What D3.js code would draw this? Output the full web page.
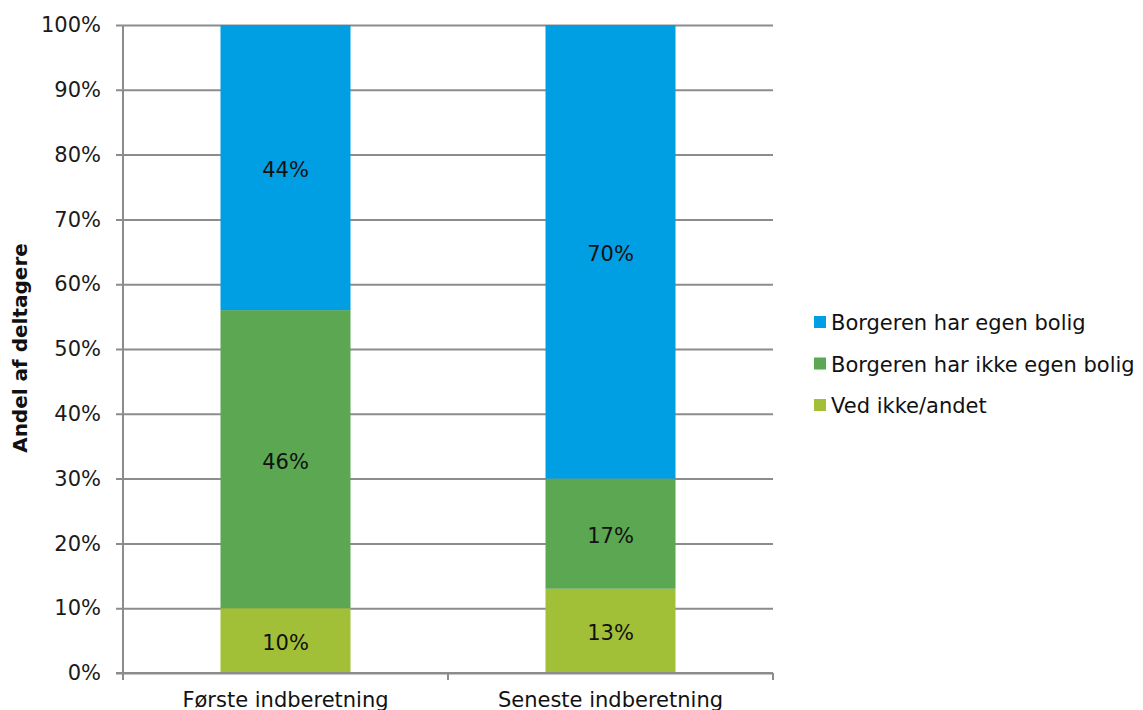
<!DOCTYPE html>
<html>
<head>
<meta charset="utf-8">
<script src="https://cdn.jsdelivr.net/npm/d3@7"></script>
<style>
  html, body { margin: 0; padding: 0; background: #fff; }
  svg { display: block; font-family: "DejaVu Sans", Verdana, sans-serif; }
</style>
</head>
<body>
<svg id="chart" width="1143" height="710"></svg>
<script>
// Stacked 100% bars: housing status of participants
const categories = ["Første indberetning", "Seneste indberetning"];
const seriesNames = ["Ved ikke/andet", "Borgeren har ikke egen bolig", "Borgeren har egen bolig"];
const vedIkke = [10, 13];
const ikkeEgenBolig = [46, 17];
const egenBolig = [44, 70];
const seriesColors = ["#A2C037", "#5BA752", "#009FE3"];
const yTicks = [0, 10, 20, 30, 40, 50, 60, 70, 80, 90, 100];
const yTitle = "Andel af deltagere";

const rows = categories.map((c, i) => ({
  cat: c,
  "Ved ikke/andet": vedIkke[i],
  "Borgeren har ikke egen bolig": ikkeEgenBolig[i],
  "Borgeren har egen bolig": egenBolig[i]
}));

const svg = d3.select("#chart");
const margin = { left: 123, right: 370, top: 25, bottom: 37 };
const W = 1143, H = 710;
const x0 = margin.left, x1 = W - margin.right, y0 = H - margin.bottom, y1 = margin.top;
const fs = 21;

const x = d3.scaleBand().domain(categories).range([x0, x1]).paddingInner(0.6).paddingOuter(0.3);
const xEdges = d3.scaleLinear().domain([0, categories.length]).range([x0, x1]);
const y = d3.scaleLinear().domain([0, 100]).range([y0, y1]);

const grid = "#8C8C8C";

// horizontal gridlines with outward ticks
const yAxis = d3.axisLeft(y).tickValues(yTicks).tickFormat(d => d + "%")
  .tickSize(-(x1 - x0)).tickPadding(22);
const gy = svg.append("g").attr("transform", `translate(${x0},0)`).call(yAxis);
gy.select(".domain").remove();
gy.selectAll(".tick line").attr("stroke", grid).attr("stroke-width", 2).attr("x1", -7);
gy.selectAll(".tick text").attr("font-size", fs).attr("fill", "#1a1a1a")
  .attr("font-family", "DejaVu Sans, Verdana, sans-serif");

// stacked bars
const stack = d3.stack().keys(seriesNames);
const layers = stack(rows);
const gBars = svg.append("g");
layers.forEach((layer, li) => {
  gBars.selectAll(null).data(layer).enter().append("rect")
    .attr("x", d => x(d.data.cat))
    .attr("width", x.bandwidth())
    .attr("y", d => y(d[1]))
    .attr("height", d => y(d[0]) - y(d[1]))
    .attr("fill", seriesColors[li]);
  gBars.selectAll(null).data(layer).enter().append("text")
    .attr("x", d => x(d.data.cat) + x.bandwidth() / 2)
    .attr("y", d => (y(d[0]) + y(d[1])) / 2 + 2)
    .attr("dy", "0.35em")
    .attr("text-anchor", "middle")
    .attr("font-size", fs)
    .attr("fill", "#111")
    .text(d => Math.round(d[1] - d[0]) + "%");
});

// y axis line
svg.append("line").attr("x1", x0).attr("x2", x0).attr("y1", y1).attr("y2", y0)
  .attr("stroke", grid).attr("stroke-width", 2);

// x axis line and category boundary ticks
svg.append("line").attr("x1", x0 - 7).attr("x2", x1).attr("y1", y0).attr("y2", y0)
  .attr("stroke", grid).attr("stroke-width", 2);
svg.append("g").selectAll("line").data(d3.range(categories.length + 1)).enter().append("line")
  .attr("x1", d => xEdges(d)).attr("x2", d => xEdges(d))
  .attr("y1", y0).attr("y2", y0 + 7)
  .attr("stroke", grid).attr("stroke-width", 2);

// category labels
svg.append("g").selectAll("text").data(categories).enter().append("text")
  .attr("x", d => x(d) + x.bandwidth() / 2)
  .attr("y", y0 + 34)
  .attr("text-anchor", "middle")
  .attr("font-size", fs)
  .attr("fill", "#111")
  .text(d => d);

// y axis title
svg.append("text")
  .attr("transform", `translate(27,348) rotate(-90)`)
  .attr("text-anchor", "middle")
  .attr("font-size", 20)
  .attr("font-weight", "bold")
  .attr("fill", "#111")
  .text(yTitle);

// legend (top entry is the top of the stack)
const legendItems = seriesNames.map((n, i) => ({ name: n, color: seriesColors[i] })).reverse();
const lg = svg.append("g").attr("transform", "translate(814,322)");
const li = lg.selectAll("g").data(legendItems).enter().append("g")
  .attr("transform", (d, i) => `translate(0,${i * 41.5})`);
li.append("rect").attr("x", 0).attr("y", -6).attr("width", 12).attr("height", 12)
  .attr("fill", d => d.color);
li.append("text").attr("x", 17).attr("y", 1).attr("dy", "0.35em")
  .attr("font-size", fs).attr("fill", "#111").text(d => d.name);
</script>
</body>
</html>
